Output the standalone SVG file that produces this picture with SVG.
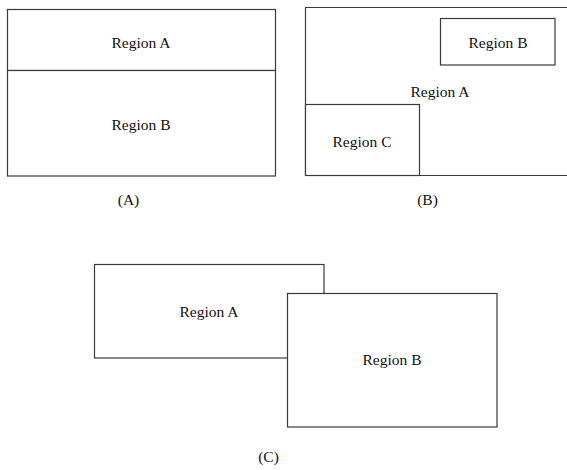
<svg xmlns="http://www.w3.org/2000/svg" width="567" height="470" viewBox="0 0 567 470">
<style>
.box{fill:#fff;stroke:#3a3a3a;stroke-width:1.2}
.ln{fill:none;stroke:#3a3a3a;stroke-width:1.2}
text{font-family:"Liberation Serif","Times New Roman",serif;font-size:15.5px;fill:#111;text-anchor:middle}
</style>
<rect width="567" height="470" fill="#fff"/>
<g id="panelA">
  <g id="A-regionA">
    <rect class="box" x="7.5" y="9.5" width="268" height="61"/>
    <text x="141" y="48">Region A</text>
  </g>
  <g id="A-regionB">
    <rect class="box" x="7.5" y="70.5" width="268" height="105.5"/>
    <text x="141" y="130">Region B</text>
  </g>
  <text x="128.5" y="205">(A)</text>
</g>
<g id="panelB">
  <g id="B-regionA">
    <path class="ln" d="M570,7.5 H305.5 V175.5 H570"/>
    <text x="440" y="97">Region A</text>
  </g>
  <g id="B-regionB">
    <rect class="box" x="440.5" y="18.5" width="114.5" height="46.5"/>
    <text x="498" y="48">Region B</text>
  </g>
  <g id="B-regionC">
    <rect class="box" x="305.5" y="104.5" width="114" height="71"/>
    <text x="362" y="147">Region C</text>
  </g>
  <text x="427.5" y="205">(B)</text>
</g>
<g id="panelC">
  <g id="C-regionA">
    <rect class="box" x="94.5" y="264.5" width="229.5" height="93.5"/>
    <text x="209" y="317">Region A</text>
  </g>
  <g id="C-regionB">
    <rect class="box" x="287.5" y="293.5" width="209.5" height="133.5"/>
    <text x="392" y="365">Region B</text>
  </g>
  <text x="268.5" y="462">(C)</text>
</g>
<g id="connectors"/>
</svg>
